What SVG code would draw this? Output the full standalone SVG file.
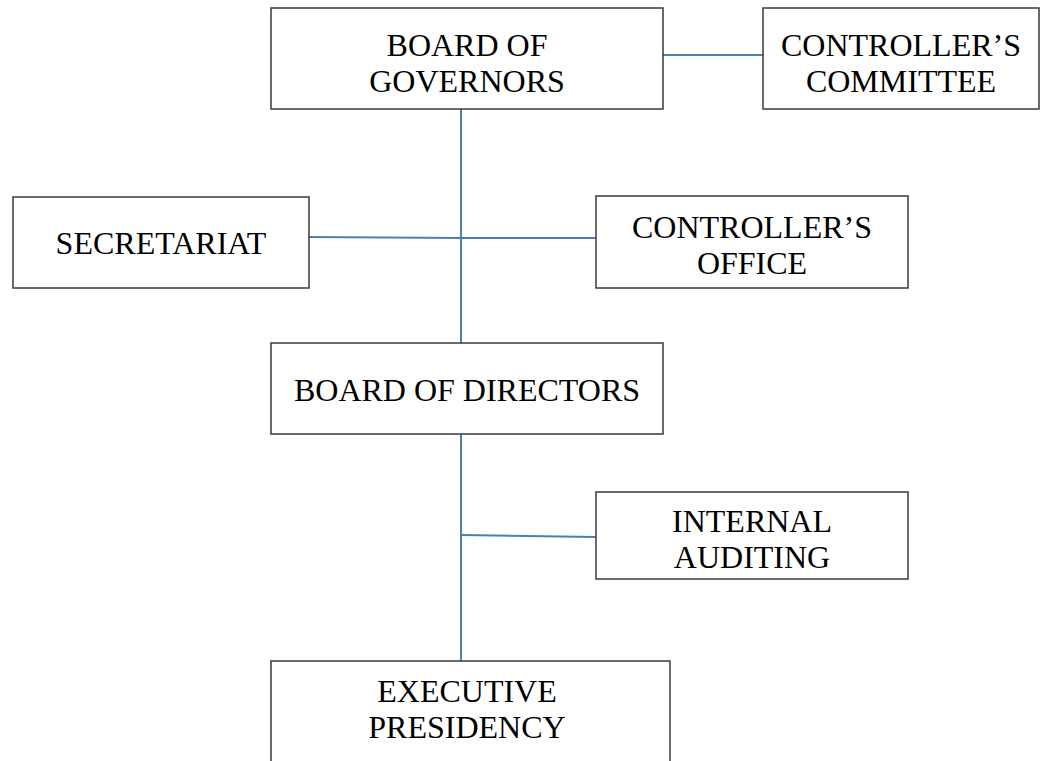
<svg xmlns="http://www.w3.org/2000/svg" width="1042" height="761" viewBox="0 0 1042 761">
<style>
.box{fill:#fff;stroke:#3a3a3a;stroke-width:1.5}
.t{font-family:"Liberation Serif","Times New Roman",serif;font-size:32px;fill:#000;text-anchor:middle}
.c{stroke:#4a7ebb;stroke-width:2;fill:none}
</style>
<rect width="1042" height="761" fill="#fff"/>
<g id="connectors">
<line class="c" x1="461" y1="109" x2="461" y2="343"/>
<line class="c" x1="663" y1="55" x2="763" y2="55"/>
<polyline class="c" points="309,237 461,238 596,238"/>
<line class="c" x1="461" y1="434" x2="461" y2="661"/>
<polyline class="c" points="461,535 596,537"/>
</g>
<g id="board-of-governors">
<rect class="box" x="271" y="8" width="392" height="101"/>
<text class="t" x="467" y="56">BOARD OF</text>
<text class="t" x="467" y="92">GOVERNORS</text>
</g>
<g id="controllers-committee">
<rect class="box" x="763" y="8" width="276" height="101"/>
<text class="t" x="901" y="56">CONTROLLER’S</text>
<text class="t" x="901" y="92">COMMITTEE</text>
</g>
<g id="secretariat">
<rect class="box" x="13" y="197" width="296" height="91"/>
<text class="t" x="161" y="254">SECRETARIAT</text>
</g>
<g id="controllers-office">
<rect class="box" x="596" y="196" width="312" height="92"/>
<text class="t" x="752" y="238">CONTROLLER’S</text>
<text class="t" x="752" y="274">OFFICE</text>
</g>
<g id="board-of-directors">
<rect class="box" x="271" y="343" width="392" height="91"/>
<text class="t" x="467" y="401">BOARD OF DIRECTORS</text>
</g>
<g id="internal-auditing">
<rect class="box" x="596" y="492" width="312" height="87"/>
<text class="t" x="752" y="532">INTERNAL</text>
<text class="t" x="752" y="568">AUDITING</text>
</g>
<g id="executive-presidency">
<rect class="box" x="271" y="661" width="399" height="110"/>
<text class="t" x="467" y="702">EXECUTIVE</text>
<text class="t" x="467" y="738">PRESIDENCY</text>
</g>
</svg>
